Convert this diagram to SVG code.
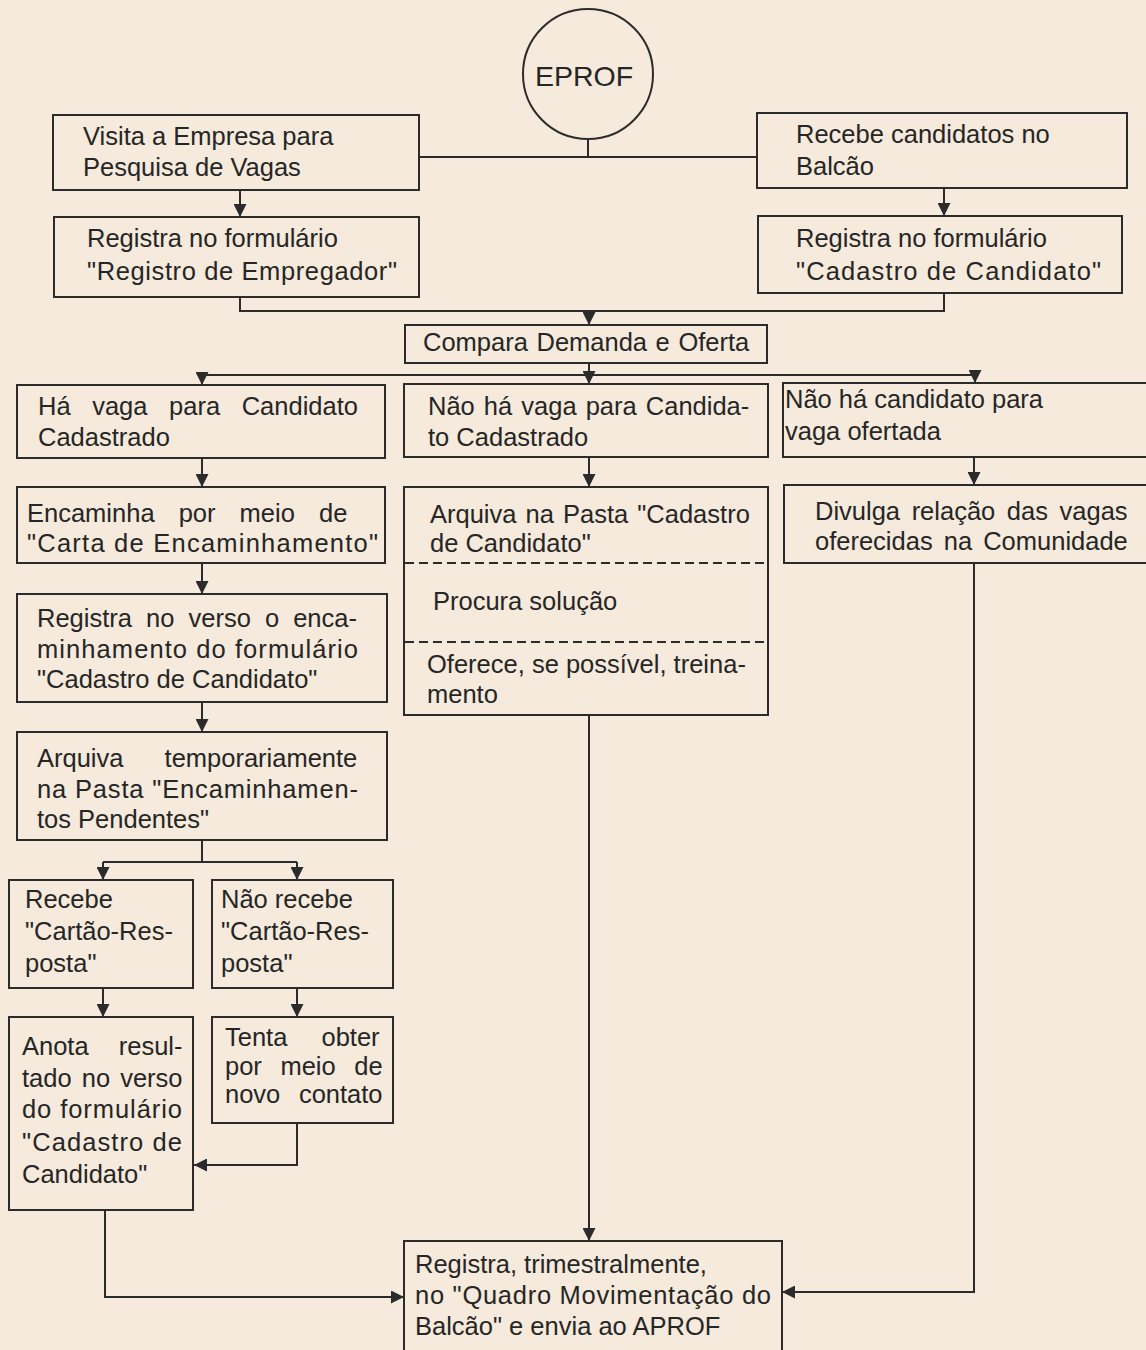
<svg xmlns="http://www.w3.org/2000/svg" width="1146" height="1350" viewBox="0 0 1146 1350">
<style>
  .bx { fill: none; stroke: #2b2b2b; stroke-width: 2; }
  .dash { stroke: #2b2b2b; stroke-width: 2; stroke-dasharray: 9 5; fill: none; }
  .ln { fill: none; stroke: #2b2b2b; stroke-width: 2; }
  .ar { fill: none; stroke: #2b2b2b; stroke-width: 2; marker-end: url(#ah); }
  text { font-family: "Liberation Sans", Arial, Helvetica, sans-serif; font-size: 25.5px; fill: #262626; }
  .big { font-size: 28.5px; }
</style>
<defs>
  <marker id="ah" viewBox="0 0 10 10" refX="10" refY="5" markerWidth="13" markerHeight="13" markerUnits="userSpaceOnUse" orient="auto">
    <path d="M0,0 L10,5 L0,10 z" fill="#2b2b2b"/>
  </marker>
</defs>
<rect x="0" y="0" width="1146" height="1350" fill="#f5eadb"/>

<g id="connectors">
  <path class="ln" d="M588,139 V157 M420,157 H757"/>
  <path class="ar" d="M240,190 V217"/>
  <path class="ar" d="M944,188 V216"/>
  <path class="ln" d="M240,297 V311 H944 V293"/>
  <path class="ar" d="M589,311 V325"/>
  <path class="ln" d="M589,363 V375 M202,375 H975"/>
  <path class="ar" d="M202,375 V385"/>
  <path class="ar" d="M589,375 V384"/>
  <path class="ar" d="M975,375 V383"/>
  <path class="ar" d="M202,458 V487"/>
  <path class="ar" d="M589,457 V487"/>
  <path class="ar" d="M974,457 V485"/>
  <path class="ar" d="M202,563 V594"/>
  <path class="ar" d="M202,702 V732"/>
  <path class="ln" d="M202,840 V862 M103,862 H297"/>
  <path class="ar" d="M103,862 V880"/>
  <path class="ar" d="M297,862 V880"/>
  <path class="ar" d="M103,988 V1017"/>
  <path class="ar" d="M297,988 V1017"/>
  <path class="ar" d="M297,1123 V1165 H194"/>
  <path class="ar" d="M105,1210 V1297 H404"/>
  <path class="ar" d="M589,715 V1241"/>
  <path class="ar" d="M974,563 V1292 H782"/>
</g>

<g id="n-eprof">
  <circle class="bx" cx="588" cy="74" r="65"/>
  <text class="big" x="584" y="86" text-anchor="middle">EPROF</text>
</g>

<g id="n-visita">
  <rect class="bx" x="53" y="115" width="366" height="75"/>
  <text x="83" y="145">Visita a Empresa para</text>
  <text x="83" y="176">Pesquisa de Vagas</text>
</g>

<g id="n-recebe">
  <rect class="bx" x="757" y="113" width="370" height="75"/>
  <text x="796" y="143">Recebe candidatos no</text>
  <text x="796" y="175">Balcão</text>
</g>

<g id="n-registro-empregador">
  <rect class="bx" x="54" y="217" width="365" height="80"/>
  <text x="87" y="247">Registra no formulário</text>
  <text x="87" y="280" textLength="310">"Registro de Empregador"</text>
</g>

<g id="n-cadastro-candidato">
  <rect class="bx" x="758" y="216" width="364" height="77"/>
  <text x="796" y="247">Registra no formulário</text>
  <text x="796" y="280" textLength="305">"Cadastro de Candidato"</text>
</g>

<g id="n-compara">
  <rect class="bx" x="405" y="325" width="362" height="38"/>
  <text x="423" y="351" style="word-spacing:1.5px">Compara Demanda e Oferta</text>
</g>

<g id="n-ha-vaga">
  <rect class="bx" x="17" y="385" width="368" height="73"/>
  <text x="38" y="415" style="word-spacing:14.5px">Há vaga para Candidato</text>
  <text x="38" y="446">Cadastrado</text>
</g>

<g id="n-nao-ha-vaga">
  <rect class="bx" x="404" y="384" width="364" height="73"/>
  <text x="428" y="415" style="word-spacing:2px">Não há vaga para Candida-</text>
  <text x="428" y="446">to Cadastrado</text>
</g>

<g id="n-nao-ha-candidato">
  <rect class="bx" x="783" y="383" width="380" height="74"/>
  <text x="785" y="408">Não há candidato para</text>
  <text x="785" y="440">vaga ofertada</text>
</g>

<g id="n-encaminha">
  <rect class="bx" x="17" y="487" width="368" height="76"/>
  <text x="27" y="522" style="word-spacing:17px">Encaminha por meio de</text>
  <text x="27" y="552" textLength="351">"Carta de Encaminhamento"</text>
</g>

<g id="n-arquiva-pasta">
  <rect class="bx" x="404" y="487" width="364" height="228"/>
  <line class="dash" x1="405" y1="563" x2="767" y2="563"/>
  <line class="dash" x1="405" y1="642" x2="767" y2="642"/>
  <text x="430" y="523" style="word-spacing:2px">Arquiva na Pasta "Cadastro</text>
  <text x="430" y="552">de Candidato"</text>
  <text x="433" y="610">Procura solução</text>
  <text x="427" y="673">Oferece, se possível, treina-</text>
  <text x="427" y="703">mento</text>
</g>

<g id="n-divulga">
  <rect class="bx" x="784" y="485" width="380" height="78"/>
  <text x="815" y="520" style="word-spacing:4.5px">Divulga relação das vagas</text>
  <text x="815" y="550" style="word-spacing:4px">oferecidas na Comunidade</text>
</g>

<g id="n-registra-verso">
  <rect class="bx" x="17" y="594" width="370" height="108"/>
  <text x="37" y="627" style="word-spacing:7px">Registra no verso o enca-</text>
  <text x="37" y="658" textLength="321">minhamento do formulário</text>
  <text x="37" y="688">"Cadastro de Candidato"</text>
</g>

<g id="n-arquiva-temp">
  <rect class="bx" x="17" y="732" width="370" height="108"/>
  <text x="37" y="767" style="word-spacing:34px">Arquiva temporariamente</text>
  <text x="37" y="798" textLength="321">na Pasta "Encaminhamen-</text>
  <text x="37" y="828">tos Pendentes"</text>
</g>

<g id="n-recebe-cartao">
  <rect class="bx" x="9" y="880" width="184" height="108"/>
  <text x="25" y="908">Recebe</text>
  <text x="25" y="940">"Cartão-Res-</text>
  <text x="25" y="972">posta"</text>
</g>

<g id="n-nao-recebe-cartao">
  <rect class="bx" x="212" y="880" width="181" height="108"/>
  <text x="221" y="908">Não recebe</text>
  <text x="221" y="940">"Cartão-Res-</text>
  <text x="221" y="972">posta"</text>
</g>

<g id="n-anota">
  <rect class="bx" x="9" y="1017" width="184" height="193"/>
  <text x="22" y="1055" style="word-spacing:23px">Anota resul-</text>
  <text x="22" y="1087" style="word-spacing:3px">tado no verso</text>
  <text x="22" y="1118" textLength="160">do formulário</text>
  <text x="22" y="1151" textLength="160">"Cadastro de</text>
  <text x="22" y="1183">Candidato"</text>
</g>

<g id="n-tenta">
  <rect class="bx" x="212" y="1017" width="181" height="106"/>
  <text x="225" y="1046" style="word-spacing:27px">Tenta obter</text>
  <text x="225" y="1075" style="word-spacing:11.5px">por meio de</text>
  <text x="225" y="1103" style="word-spacing:11.5px">novo contato</text>
</g>

<g id="n-final">
  <rect class="bx" x="404" y="1241" width="378" height="120"/>
  <text x="415" y="1273">Registra, trimestralmente,</text>
  <text x="415" y="1304" textLength="356">no "Quadro Movimentação do</text>
  <text x="415" y="1335">Balcão" e envia ao APROF</text>
</g>
</svg>
